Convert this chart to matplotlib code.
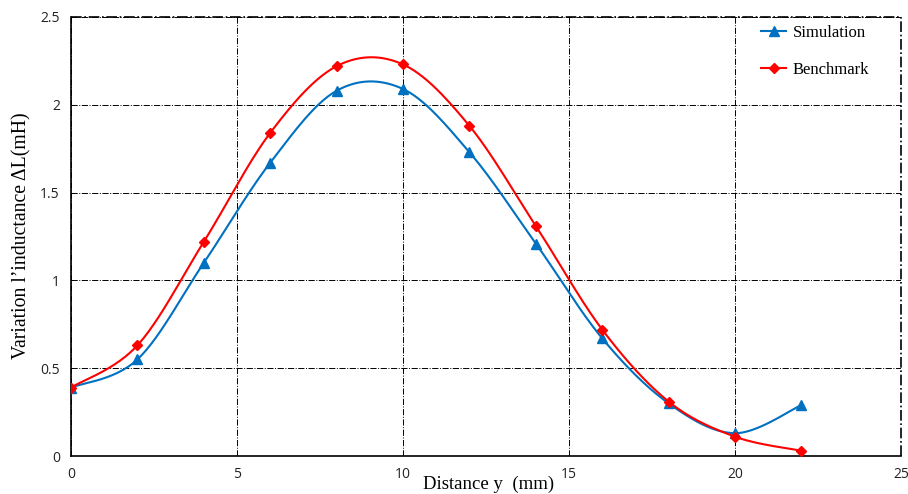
import numpy as np
import matplotlib.pyplot as plt

# distance values (mm)
distance = [0, 2, 4, 6, 8, 10, 12, 14, 16, 18, 20, 22]
simulation = [0.39, 0.55, 1.10, 1.67, 2.08, 2.09, 1.73, 1.21, 0.67, 0.30, 0.13, 0.29]
benchmark = [0.39, 0.63, 1.22, 1.84, 2.22, 2.23, 1.88, 1.31, 0.72, 0.31, 0.11, 0.03]


def smooth(xs, ys, n=30):
    # excel-like bezier smoothing through the points
    xs = np.asarray(xs, float)
    ys = np.asarray(ys, float)
    px = np.concatenate([[xs[0]], xs, [xs[-1]]])
    py = np.concatenate([[ys[0]], ys, [ys[-1]]])
    outx, outy = [], []
    t = np.linspace(0, 1, n)
    for i in range(1, len(px) - 2):
        p0 = np.array([px[i], py[i]])
        p3 = np.array([px[i + 1], py[i + 1]])
        p1 = p0 + (np.array([px[i + 1], py[i + 1]]) - np.array([px[i - 1], py[i - 1]])) / 6
        p2 = p3 - (np.array([px[i + 2], py[i + 2]]) - np.array([px[i], py[i]])) / 6
        b = ((1 - t) ** 3)[:, None] * p0 + (3 * (1 - t) ** 2 * t)[:, None] * p1 \
            + (3 * (1 - t) * t ** 2)[:, None] * p2 + (t ** 3)[:, None] * p3
        outx.extend(b[:, 0])
        outy.extend(b[:, 1])
    return outx, outy


fig = plt.figure(figsize=(9.08, 4.94), dpi=100)
ax = fig.add_axes([0.0782, 0.0769, 0.9141, 0.8887])

blue = '#0070C0'
red = '#FF0000'

sx, sy = smooth(distance, simulation)
bx, by = smooth(distance, benchmark)
ax.plot(sx, sy, color=blue, lw=1.5, zorder=3)
ax.plot(bx, by, color=red, lw=1.5, zorder=4)
ax.plot(distance, simulation, '^', color=blue, ms=7, zorder=3)
ax.plot(distance, benchmark, 'D', color=red, ms=5, zorder=4)
# legend handles
ax.plot([], [], '-^', color=blue, lw=1.5, ms=7, label='Simulation')
ax.plot([], [], '-D', color=red, lw=1.5, ms=5, label='Benchmark')

ax.set_xlim(0, 25)
ax.set_ylim(0, 2.5)
ax.set_xticks([0, 5, 10, 15, 20, 25])
ax.set_yticks([0, 0.5, 1, 1.5, 2, 2.5])
ax.set_yticklabels(['0', '0.5', '1', '1.5', '2', '2.5'])
ax.tick_params(length=0, labelsize=10, pad=8, labelcolor='#222222')
for lab in ax.get_xticklabels() + ax.get_yticklabels():
    lab.set_family('Open Sans')

ax.grid(True, color='black', ls='-.', lw=0.7)
ax.spines['top'].set_visible(False)
ax.spines['right'].set_visible(False)
ax.spines['left'].set_linewidth(1.2)
ax.spines['bottom'].set_linewidth(1.2)
# outer dash-dot border lines
ax.axhline(2.5, color='black', ls='-.', lw=1.2, clip_on=False)
ax.axvline(25, color='black', ls='-.', lw=1.2, clip_on=False)

fig.text(489 / 908, 1 - 484 / 494, 'Distance y  (mm)', ha='center', va='center',
         family='Liberation Serif', fontsize=13.5)
fig.text(22 / 908, 1 - 236 / 494, "Variation l\u2019inductance \u0394L(mH)", ha='center',
         va='center', rotation=90, family='Liberation Serif', fontsize=14.2)

leg = ax.legend(loc='upper left', frameon=False, prop={'family': 'Liberation Serif', 'size': 12},
                bbox_to_anchor=(746 / 908, 1 - 10 / 494), bbox_transform=fig.transFigure,
                labelspacing=1.25, handlelength=1.5, handletextpad=0.4)

fig.savefig('out.png', dpi=100)
